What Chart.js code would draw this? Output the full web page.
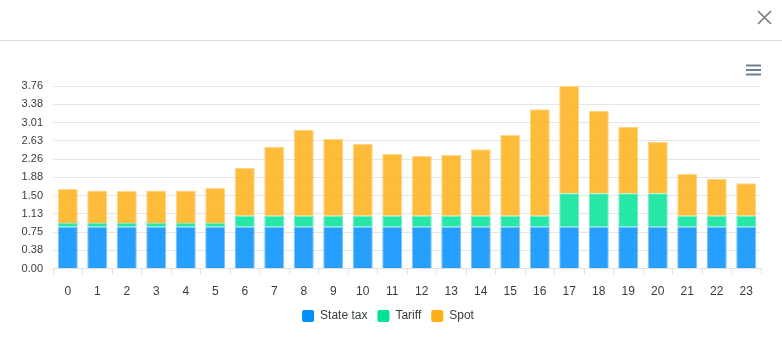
<!DOCTYPE html>
<html>
<head>
<meta charset="utf-8">
<script src="https://cdn.jsdelivr.net/npm/chart.js@4"></script>
<style>
    html, body { margin: 0; padding: 0; background: #fff; }
    #wrap { position: relative; width: 782px; height: 342px; overflow: hidden; }
    #chart { position: absolute; left: 0; top: 0; }
    #header { position: absolute; left: 0; top: 0; width: 782px; height: 40px; border-bottom: 1px solid #dedede; }
    #close { position: absolute; left: 757px; top: 10px; width: 15px; height: 15px; }
    #menu { position: absolute; left: 746px; top: 64px; width: 15px; height: 12px; }
</style>
</head>
<body>
<div id="wrap">
    <canvas id="chart" width="782" height="342"></canvas>
    <div id="header"></div>
    <svg id="close" viewBox="0 0 15 15"><path d="M1 1 L14 14 M14 1 L1 14" stroke="#7a7a7a" stroke-width="1.6" fill="none"/></svg>
    <svg id="menu" viewBox="0 0 15 12"><path d="M0 1.5 H15 M0 6 H15 M0 10.5 H15" stroke="#6e8192" stroke-width="2" fill="none"/></svg>
</div>
<script>
const hours = ['0', '1', '2', '3', '4', '5', '6', '7', '8', '9', '10', '11', '12', '13', '14', '15', '16', '17', '18', '19', '20', '21', '22', '23'];
const stateTax = [0.86, 0.86, 0.86, 0.86, 0.86, 0.86, 0.86, 0.86, 0.86, 0.86, 0.86, 0.86, 0.86, 0.86, 0.86, 0.86, 0.86, 0.86, 0.86, 0.86, 0.86, 0.86, 0.86, 0.86];
const tariff = [0.08, 0.08, 0.08, 0.08, 0.08, 0.08, 0.23, 0.23, 0.23, 0.23, 0.23, 0.23, 0.23, 0.23, 0.23, 0.23, 0.23, 0.69, 0.69, 0.69, 0.69, 0.23, 0.23, 0.23];
const spot = [0.70, 0.67, 0.66, 0.67, 0.67, 0.72, 0.98, 1.42, 1.77, 1.58, 1.48, 1.27, 1.23, 1.25, 1.37, 1.66, 2.19, 2.21, 1.70, 1.37, 1.06, 0.86, 0.76, 0.67];
const yTickValues = [0, 0.376, 0.752, 1.128, 1.504, 1.88, 2.256, 2.632, 3.008, 3.384, 3.76];
const yTickLabels = ['0.00', '0.38', '0.75', '1.13', '1.50', '1.88', '2.26', '2.63', '3.01', '3.38', '3.76'];

const datasetSettings = {
    borderWidth: 1,
    categoryPercentage: 0.8,
    barPercentage: 0.85
};

function makeDataset(label, data, color, fill, border) {
    const ds = Object.assign({}, datasetSettings);
    ds.label = label;
    ds.data = data;
    ds.backgroundColor = fill;
    ds.borderColor = border;
    ds.legendColor = color;
    return ds;
}

Chart.defaults.font.family = 'Helvetica, Arial, sans-serif';
Chart.defaults.color = '#373d3f';

new Chart(document.getElementById('chart'), {
    type: 'bar',
    data: {
        labels: hours,
        datasets: [
            makeDataset('State tax', stateTax, '#008FFB', 'rgba(0,143,251,0.85)', 'rgba(120,190,252,0.9)'),
            makeDataset('Tariff', tariff, '#00E396', 'rgba(0,227,150,0.85)', 'rgba(110,235,190,0.9)'),
            makeDataset('Spot', spot, '#FEB019', 'rgba(254,176,25,0.85)', 'rgba(254,210,130,0.9)')
        ]
    },
    options: {
        responsive: false,
        animation: false,
        layout: {
            padding: { top: 86, right: 21, left: 15, bottom: 10 }
        },
        scales: {
            x: {
                stacked: true,
                grid: {
                    display: true,
                    drawOnChartArea: false,
                    drawTicks: true,
                    tickLength: 6,
                    color: '#e0e0e0',
                    offset: true
                },
                border: { color: '#e0e0e0' },
                ticks: { font: { size: 12 }, padding: 10, maxRotation: 0 },
                afterFit: (scale) => {
                    scale.height = scale.height - 9;
                }
            },
            y: {
                stacked: true,
                min: 0,
                max: 3.76,
                afterBuildTicks: (scale) => {
                    scale.ticks = yTickValues.map((v) => ({ value: v }));
                },
                afterFit: (scale) => {
                    scale.width = 38;
                },
                grid: { color: '#e6e6e6', drawTicks: false },
                border: { display: false },
                ticks: {
                    font: { size: 11 },
                    padding: 10,
                    callback: (value, index) => yTickLabels[index]
                }
            }
        },
        plugins: {
            tooltip: { enabled: false },
            legend: {
                position: 'bottom',
                labels: {
                    boxWidth: 12,
                    boxHeight: 12,
                    padding: 10,
                    useBorderRadius: true,
                    borderRadius: 2,
                    font: { size: 12 },
                    generateLabels: (chart) => chart.data.datasets.map((ds, i) => ({
                        text: ds.label,
                        fillStyle: ds.legendColor,
                        strokeStyle: ds.legendColor,
                        lineWidth: 0,
                        borderRadius: 2,
                        datasetIndex: i,
                        fontColor: '#373d3f'
                    }))
                }
            }
        }
    }
});
</script>
</body>
</html>
